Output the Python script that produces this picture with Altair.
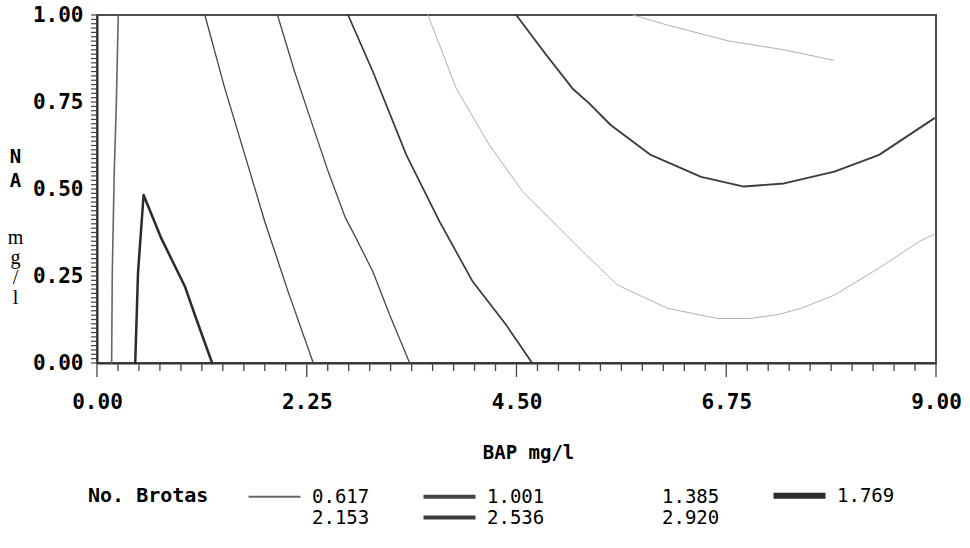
import altair as alt
import pandas as pd

# Contour levels (No. Brotas) and their line styles
levels = ["0.617", "1.001", "1.385", "1.769", "2.153", "2.536", "2.920"]
line_colors = ["#666666", "#444444", "#484848", "#2b2b2b", "#383838", "#3c3c3c", "#b0b0b0"]
line_widths = [1.6, 1.3, 1.3, 2.5, 1.7, 1.9, 1.0]

# Contour paths: BAP (mg/l) and NAA (mg/l)
c617_bap = [0.228, 0.207, 0.185, 0.164, 0.157]
c617_naa = [1.0, 0.741, 0.55, 0.26, 0.0]

c1001_bap = [1.157, 1.371, 1.586, 1.80, 2.05, 2.32]
c1001_naa = [1.0, 0.789, 0.598, 0.406, 0.205, 0.0]

c1385_bap = [1.936, 2.12, 2.30, 2.48, 2.66, 2.78, 2.96, 3.14, 3.354]
c1385_naa = [1.0, 0.837, 0.693, 0.55, 0.42, 0.358, 0.262, 0.138, 0.0]

c1769_bap = [0.41, 0.44, 0.50, 0.69, 0.943, 1.05, 1.235]
c1769_naa = [0.0, 0.26, 0.483, 0.358, 0.22, 0.138, 0.0]

c2153_bap = [2.693, 2.96, 3.318, 3.675, 4.03, 4.39, 4.668]
c2153_naa = [1.0, 0.837, 0.598, 0.406, 0.234, 0.109, 0.0]

c2536_bap = [4.497, 4.82, 5.10, 5.28, 5.51, 5.94, 6.48, 6.94, 7.37, 7.91, 8.39, 8.98]
c2536_naa = [1.0, 0.885, 0.789, 0.746, 0.684, 0.598, 0.535, 0.507, 0.516, 0.55, 0.598, 0.703]

c2920a_bap = [3.55, 3.854, 4.21, 4.568, 4.925, 5.25, 5.585, 6.12, 6.657, 7.01, 7.32, 7.55, 7.91, 8.39, 8.82, 8.98]
c2920a_naa = [1.0, 0.789, 0.626, 0.492, 0.397, 0.31, 0.224, 0.157, 0.128, 0.128, 0.14, 0.157, 0.195, 0.273, 0.349, 0.37]

c2920b_bap = [5.75, 6.12, 6.78, 7.37, 7.9]
c2920b_naa = [1.0, 0.971, 0.925, 0.9, 0.87]

segments = [
    ("0.617", "s1", c617_bap, c617_naa),
    ("1.001", "s2", c1001_bap, c1001_naa),
    ("1.385", "s3", c1385_bap, c1385_naa),
    ("1.769", "s4", c1769_bap, c1769_naa),
    ("2.153", "s5", c2153_bap, c2153_naa),
    ("2.536", "s6", c2536_bap, c2536_naa),
    ("2.920", "s7", c2920a_bap, c2920a_naa),
    ("2.920", "s8", c2920b_bap, c2920b_naa),
]

rows = []
for lvl, seg, xs, ys in segments:
    for i, (xv, yv) in enumerate(zip(xs, ys)):
        rows.append({"level": lvl, "seg": seg, "i": i, "bap": xv, "naa": yv})
df = pd.DataFrame(rows)

# Tick values
x_major = [0, 2.25, 4.5, 6.75, 9]
x_minor = [round(k * 0.225, 4) for k in range(41) if k % 10 != 0]
y_ticks = [round(k * 0.0125, 4) for k in range(81)]

# Tick lengths, in data units of the other axis
X_MAJOR_LEN = 0.040
X_MINOR_LEN = 0.023
Y_TICK_LEN = 0.064

xt_rows = []
for t in x_major:
    xt_rows += [{"id": f"M{t}", "tx": t, "ty": 0.0}, {"id": f"M{t}", "tx": t, "ty": -X_MAJOR_LEN}]
for t in x_minor:
    xt_rows += [{"id": f"m{t}", "tx": t, "ty": 0.0}, {"id": f"m{t}", "tx": t, "ty": -X_MINOR_LEN}]
xt_df = pd.DataFrame(xt_rows)

yt_rows = []
for t in y_ticks:
    yt_rows += [{"id": f"y{t}", "tx": 0.0, "ty": t}, {"id": f"y{t}", "tx": -Y_TICK_LEN, "ty": t}]
yt_df = pd.DataFrame(yt_rows)

FONT = "DejaVu Sans Mono"
TICK = "#444444"
xscale = alt.Scale(domain=[0, 9], nice=False, zero=False)
yscale = alt.Scale(domain=[0, 1], nice=False, zero=False)

legend = alt.Legend(
    title="No. Brotas",
    orient="none",
    direction="horizontal",
    legendX=-9,
    legendY=471,
    columns=4,
    titleOrient="left",
    titleAnchor="start",
    titleBaseline="top",
    titleFont=FONT,
    titleFontSize=20,
    titleFontWeight="bold",
    titleColor="black",
    titlePadding=41,
    labelFont=FONT,
    labelFontSize=19,
    labelColor="black",
    labelOffset=28,
    symbolType="M-5.2,0H5.2",
    symbolSize=100,
    symbolOffset=15,
    columnPadding=41,
    rowPadding=0,
    gridAlign="all",
    symbolStrokeWidth={"expr": "(datum.value == '1.769' ? 6 : (datum.value == '0.617' ? 2 : 4))"},
    symbolOpacity={"expr": "(indexof(['1.385','2.153','2.920'], datum.value) >= 0 ? 0 : 1)"},
)

lines = alt.Chart(df).mark_line(strokeCap="round", strokeJoin="round").encode(
    x=alt.X("bap:Q", scale=xscale, axis=None),
    y=alt.Y(
        "naa:Q",
        scale=yscale,
        axis=alt.Axis(
            orient="left",
            values=y_ticks,
            labelExpr="abs(datum.value*4 - round(datum.value*4)) < 0.001 ? format(datum.value, '.2f') : ''",
            labelOverlap=False,
            labelFlush=False,
            labelFont=FONT,
            labelFontSize=21,
            labelFontWeight="bold",
            labelColor="black",
            labelPadding=14,
            ticks=False,
            domainColor="#333333",
            domainWidth=2,
            grid=False,
            title=["N", "A"],
            titleAngle=0,
            titleX=-82,
            titleY=132,
            titleAlign="center",
            titleBaseline="top",
            titleFont=FONT,
            titleFontSize=19,
            titleFontWeight="bold",
            titleColor="black",
            titleLineHeight=24,
        ),
    ),
    color=alt.Color("level:N", scale=alt.Scale(domain=levels, range=line_colors), legend=legend),
    strokeWidth=alt.StrokeWidth(
        "level:N",
        scale=alt.Scale(type="ordinal", domain=levels[::-1], range=line_widths[::-1]),
        legend=None,
    ),
    detail="seg:N",
    order="i:Q",
)

ghost = alt.Chart(df).mark_line(opacity=0).encode(
    x=alt.X(
        "bap:Q",
        scale=xscale,
        axis=alt.Axis(
            orient="bottom",
            values=x_major,
            format=".2f",
            labelFlush=False,
            labelOverlap=False,
            labelFont=FONT,
            labelFontSize=21,
            labelFontWeight="bold",
            labelColor="black",
            labelPadding=28,
            ticks=False,
            domainColor="#333333",
            domainWidth=2,
            grid=False,
            title="BAP mg/l",
            titleFont=FONT,
            titleFontSize=19,
            titleFontWeight="bold",
            titleColor="black",
            titleX=431,
            titleY=89,
            titleAlign="center",
            titleBaseline="middle",
        ),
    ),
    y=alt.Y(
        "naa:Q",
        scale=yscale,
        axis=alt.Axis(
            orient="left",
            labels=False,
            ticks=False,
            domain=False,
            grid=False,
            title=["m", "g", "/", "l"],
            titleAngle=0,
            titleX=-82,
            titleY=212,
            titleAlign="center",
            titleBaseline="top",
            titleFont="Liberation Serif",
            titleFontSize=20,
            titleFontWeight="normal",
            titleColor="black",
            titleLineHeight=20,
        ),
    ),
    detail="seg:N",
    order="i:Q",
)

# Axis tick marks drawn as short line segments through the data scales
x_tick_lines = alt.Chart(xt_df).mark_line(color=TICK, strokeWidth=1.3, clip=False).encode(
    x=alt.X("tx:Q", scale=xscale, axis=None),
    y=alt.Y("ty:Q", scale=yscale, axis=None),
    detail="id:N",
)
y_tick_lines = alt.Chart(yt_df).mark_line(color=TICK, strokeWidth=1.2, clip=False).encode(
    x=alt.X("tx:Q", scale=xscale, axis=None),
    y=alt.Y("ty:Q", scale=yscale, axis=None),
    detail="id:N",
)

chart = (
    alt.layer(lines, ghost, x_tick_lines, y_tick_lines)
    .resolve_axis(x="independent", y="independent")
    .properties(
        width=839,
        height=348,
        autosize=alt.AutoSizeParams(type="none"),
        padding={"left": 97, "top": 15, "right": 34, "bottom": 185},
        background="white",
    )
    .configure_view(stroke="#4d4d4d", strokeWidth=2)
)

chart.save("out.html", embed_options={"renderer": "svg", "actions": False})
